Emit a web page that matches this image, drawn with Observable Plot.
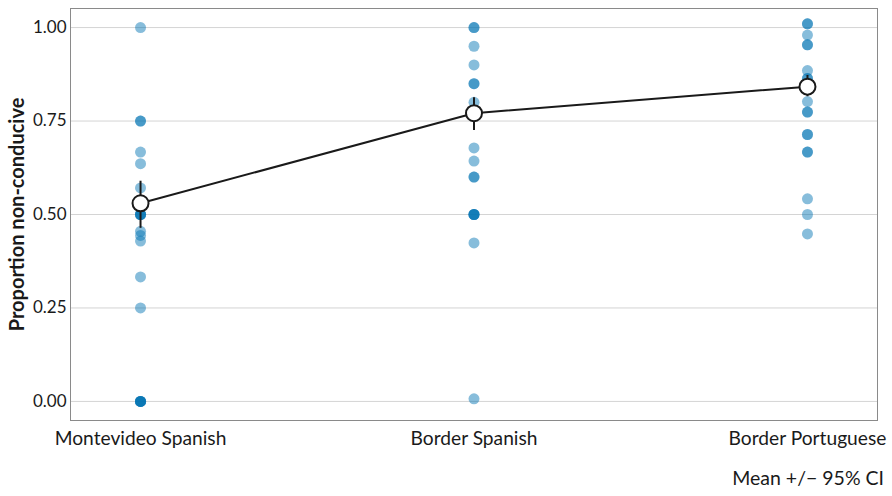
<!DOCTYPE html>
<html>
<head>
<meta charset="utf-8">
<script src="https://cdn.jsdelivr.net/npm/d3@7"></script>
<script src="https://cdn.jsdelivr.net/npm/@observablehq/plot@0.6"></script>
<style>
  body { margin: 0; background: #fff; font-family: Lato, "Open Sans", sans-serif; }
  #chart svg { font-family: Lato, "Open Sans", sans-serif; color: #1a1a1a; }
  g[aria-label="y-axis tick label"] text { font-size: 17px; }
  g[aria-label="x-axis tick label"] text { font-size: 19.2px; }
  g[aria-label="y-axis label"] text { font-size: 20px; font-weight: bold; }
  #caption { text-align: right; padding-right: 8px; font-size: 19.5px; line-height: 20px; margin-top: 8px; color: #1a1a1a; }
</style>
</head>
<body>
<div id="chart"></div>
<div id="caption">Mean +/− 95% CI</div>
<script>
const groups = ["Montevideo Spanish", "Border Spanish", "Border Portuguese"];
const montevideoSpanish = [1.00, 0.75, 0.75, 0.667, 0.636, 0.571, 0.5, 0.5, 0.5, 0.5, 0.455, 0.444, 0.429, 0.333, 0.25, 0, 0, 0, 0, 0];
const borderSpanish = [1.00, 1.00, 0.95, 0.9, 0.85, 0.85, 0.8, 0.678, 0.643, 0.6, 0.6, 0.5, 0.5, 0.5, 0.5, 0.424, 0.007];
const borderPortuguese = [1.01, 1.01, 0.98, 0.954, 0.954, 0.885, 0.864, 0.864, 0.802, 0.774, 0.774, 0.714, 0.714, 0.667, 0.667, 0.542, 0.5, 0.448];
const means = [0.530, 0.771, 0.842];
const ciLow = [0.463, 0.725, 0.815];
const ciHigh = [0.589, 0.812, 0.872];
const yTicks = [0, 0.25, 0.5, 0.75, 1];

const points = [
  ...montevideoSpanish.map(v => ({group: groups[0], value: v})),
  ...borderSpanish.map(v => ({group: groups[1], value: v})),
  ...borderPortuguese.map(v => ({group: groups[2], value: v}))
];
const summary = groups.map((g, i) => ({group: g, mean: means[i], lo: ciLow[i], hi: ciHigh[i]}));

const chart = Plot.plot({
  width: 892,
  height: 460,
  marginTop: 8,
  marginBottom: 40,
  marginLeft: 70,
  marginRight: 15,
  x: {type: "point", domain: groups, padding: 0.21, round: false, label: null},
  y: {domain: [-0.051, 1.051], label: null},
  marks: [
    Plot.gridY(yTicks, {stroke: "#d4d4d4", strokeOpacity: 1, strokeWidth: 1}),
    Plot.frame({stroke: "#8a8a8a", strokeWidth: 1}),
    Plot.axisY(yTicks, {tickSize: 0, tickPadding: 4, tickFormat: d3.format(".2f"), label: "Proportion non-conducive", labelAnchor: "center", labelArrow: "none", labelOffset: 61}),
    Plot.axisX({tickSize: 0, tickPadding: 11, label: null}),
    Plot.dot(points, {x: "group", y: "value", r: 5.5, fill: "#0072B2", fillOpacity: 0.47, stroke: "none"}),
    Plot.line(summary, {x: "group", y: "mean", stroke: "#1a1a1a", strokeWidth: 2}),
    Plot.ruleX(summary, {x: "group", y1: "lo", y2: "hi", stroke: "#1a1a1a", strokeWidth: 2}),
    Plot.dot(summary, {x: "group", y: "mean", r: 8, fill: "white", stroke: "#1a1a1a", strokeWidth: 2})
  ]
});
document.getElementById("chart").appendChild(chart);
</script>
</body>
</html>
